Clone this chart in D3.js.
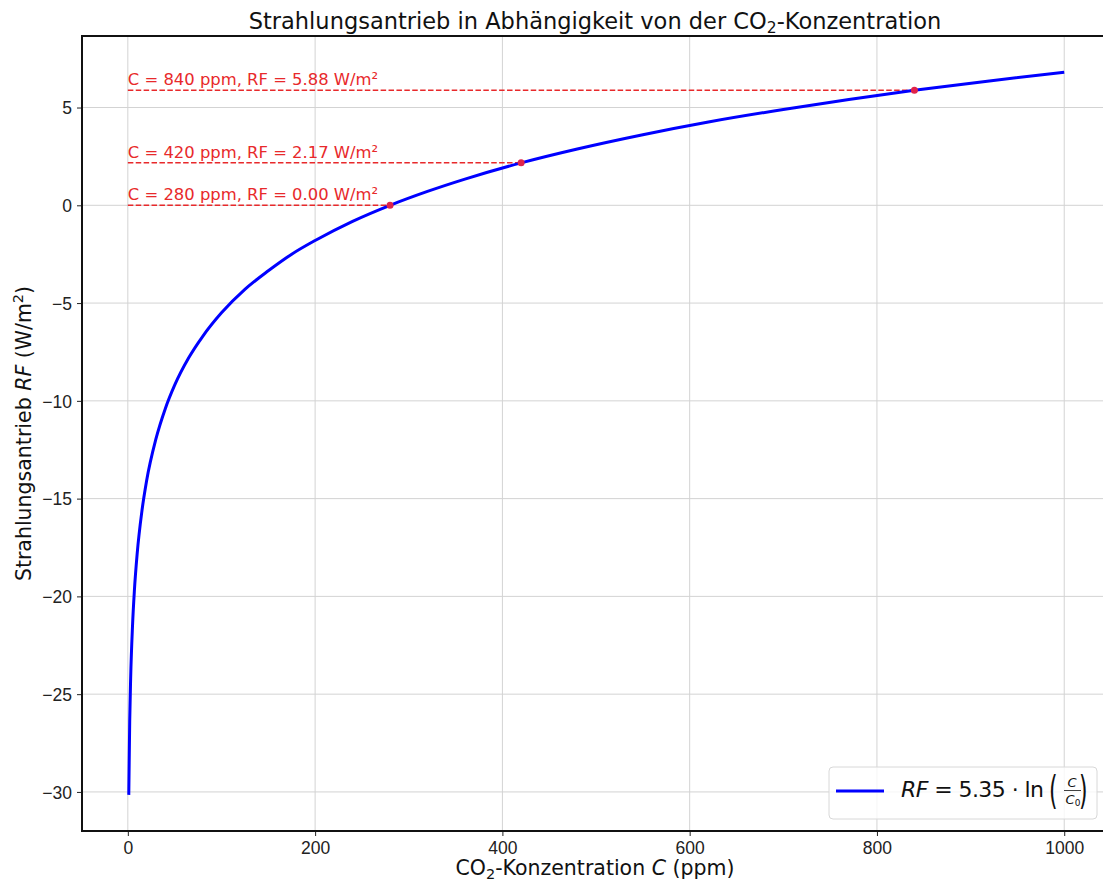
<!DOCTYPE html>
<html lang="de">
<head>
<meta charset="UTF-8">
<title>Strahlungsantrieb</title>
<style>
  body { margin: 0; background: #fff; }
  svg { display: block; font-family: "DejaVu Sans", sans-serif; }
  .grid line { stroke: #d3d3d3; stroke-width: 1; }
  .tick text { font-size: 17.5px; fill: #222; }
</style>
</head>
<body>
<div id="chart"></div>
<script src="https://d3js.org/d3.v7.min.js"></script>
<script>
// CO2 concentration (ppm) and forcing (W/m²)
const concentration = [1, 2, 3, 5, 7, 10, 15, 20, 30, 40, 50, 65, 80, 100, 125, 150, 175, 200, 240, 280, 320, 360, 420, 480, 550, 620, 700, 770, 840, 920, 1000];
const forcing = [-30.15, -26.4, -24.2, -21.5, -19.7, -17.8, -15.65, -14.1, -11.95, -10.4, -9.2, -7.8, -6.7, -5.5, -4.3, -3.35, -2.5, -1.8, -0.82, 0, 0.71, 1.34, 2.17, 2.88, 3.61, 4.26, 4.9, 5.41, 5.88, 6.36, 6.81];

// marked points
const markC = [280, 420, 840];
const markRF = [0.00, 2.17, 5.88];

const xTicks = [0, 200, 400, 600, 800, 1000];
const yTicks = [-30, -25, -20, -15, -10, -5, 0, 5];

const W = 1103, H = 882;
const margin = {top: 36, left: 82, bottom: 51, right: -8};

const svg = d3.select("#chart").append("svg")
    .attr("width", W)
    .attr("height", H);

// 5% padding like matplotlib
const xExt = d3.extent(concentration), yExt = d3.extent(forcing);
const xPad = (xExt[1] - xExt[0]) * 0.05, yPad = (yExt[1] - yExt[0]) * 0.05;

const x = d3.scaleLinear()
    .domain([xExt[0] - xPad, xExt[1] + xPad])
    .range([margin.left, W - margin.right]);
const y = d3.scaleLinear()
    .domain([yExt[0] - yPad, yExt[1] + yPad])
    .range([H - margin.bottom, margin.top]);

const x0 = x.range()[0], x1 = x.range()[1];
const y0 = y.range()[0], y1 = y.range()[1];

// grid
const grid = svg.append("g").attr("class", "grid");
grid.selectAll(".gx").data(xTicks).enter().append("line")
    .attr("x1", d => x(d)).attr("x2", d => x(d))
    .attr("y1", y1).attr("y2", y0);
grid.selectAll(".gy").data(yTicks).enter().append("line")
    .attr("x1", x0).attr("x2", x1)
    .attr("y1", d => y(d)).attr("y2", d => y(d));

// axes
const fmt = d => d < 0 ? "\u2212" + Math.abs(d) : String(d);
const xAxis = svg.append("g")
    .attr("transform", `translate(0,${y0})`)
    .call(d3.axisBottom(x).tickValues(xTicks).tickFormat(fmt).tickSize(5).tickPadding(6));
const yAxis = svg.append("g")
    .attr("transform", `translate(${x0},0)`)
    .call(d3.axisLeft(y).tickValues(yTicks).tickFormat(fmt).tickSize(5).tickPadding(5));
xAxis.select(".domain").remove();
yAxis.select(".domain").remove();
xAxis.selectAll(".tick line").attr("stroke", "#222");
yAxis.selectAll(".tick line").attr("stroke", "#222");
xAxis.selectAll(".tick text").attr("dy", "0.71em");
yAxis.selectAll(".tick text").attr("dy", "0.36em");

// annotations: dashed guides, dots, labels
const marks = markC.map((c, i) => ({c: c, rf: markRF[i]}));
svg.selectAll(".guide").data(marks).enter().append("line")
    .attr("x1", x(0)).attr("x2", d => x(d.c))
    .attr("y1", d => y(d.rf)).attr("y2", d => y(d.rf))
    .attr("stroke", "#e8292b")
    .attr("stroke-width", 1.5)
    .attr("stroke-dasharray", "5.5,2.4");

// curve
const pts = concentration.map((c, i) => [c, forcing[i]]);
const line = d3.line()
    .x(d => x(d[0]))
    .y(d => y(d[1]))
    .curve(d3.curveMonotoneX);
svg.append("path")
    .datum(pts)
    .attr("d", line)
    .attr("fill", "none")
    .attr("stroke", "#0000ff")
    .attr("stroke-width", 3);

svg.selectAll(".dot").data(marks).enter().append("circle")
    .attr("cx", d => x(d.c)).attr("cy", d => y(d.rf))
    .attr("r", 3.5)
    .attr("fill", "#e0234a");

svg.selectAll(".lab").data(marks).enter().append("text")
    .attr("x", x(0))
    .attr("y", d => y(d.rf) - 5)
    .attr("font-size", 16.4)
    .attr("fill", "#e8292b")
    .text(d => `C = ${d.c} ppm, RF = ${d.rf.toFixed(2)} W/m²`);

// spines
const spine = svg.append("g").attr("stroke", "#111").attr("stroke-width", 2);
spine.append("line").attr("x1", x0).attr("x2", x0).attr("y1", y1 - 1).attr("y2", y0 + 1);
spine.append("line").attr("x1", x0 - 1).attr("x2", x1).attr("y1", y0).attr("y2", y0);
spine.append("line").attr("x1", x0 - 1).attr("x2", x1).attr("y1", y1).attr("y2", y1);

// title
const title = svg.append("text")
    .attr("x", 595).attr("y", 29)
    .attr("text-anchor", "middle")
    .attr("font-size", 22.5)
    .attr("fill", "#111");
title.append("tspan").text("Strahlungsantrieb in Abhängigkeit von der CO");
title.append("tspan").attr("font-size", 15.5).attr("dy", 4).text("2");
title.append("tspan").attr("dy", -4).text("-Konzentration");

// x label
const xl = svg.append("text")
    .attr("x", 595).attr("y", 875)
    .attr("text-anchor", "middle")
    .attr("font-size", 20.5)
    .attr("fill", "#111");
xl.append("tspan").text("CO");
xl.append("tspan").attr("font-size", 14.5).attr("dy", 4).text("2");
xl.append("tspan").attr("dy", -4).text("-Konzentration ");
xl.append("tspan").attr("font-style", "italic").text("C");
xl.append("tspan").text(" (ppm)");

// y label
const yl = svg.append("text")
    .attr("transform", `translate(31,${(y0 + y1) / 2}) rotate(-90)`)
    .attr("text-anchor", "middle")
    .attr("font-size", 20.5)
    .attr("fill", "#111");
yl.append("tspan").text("Strahlungsantrieb ");
yl.append("tspan").attr("font-style", "italic").text("RF");
yl.append("tspan").text(" (W/m");
yl.append("tspan").attr("font-size", 14.5).attr("dy", -8).text("2");
yl.append("tspan").attr("dy", 8).text(")");

// legend
const lg = svg.append("g").attr("transform", "translate(829,767)");
lg.append("rect")
    .attr("width", 268).attr("height", 52)
    .attr("rx", 4)
    .attr("fill", "#fff").attr("fill-opacity", 0.8)
    .attr("stroke", "#d8d8d8");
lg.append("line")
    .attr("x1", 7).attr("x2", 55).attr("y1", 24).attr("y2", 24)
    .attr("stroke", "#0000ff").attr("stroke-width", 3);
const lt = lg.append("text")
    .attr("x", 72).attr("y", 30)
    .attr("font-size", 22)
    .attr("fill", "#111")
    .attr("textLength", 143)
    .attr("lengthAdjust", "spacing");
lt.append("tspan").attr("font-style", "italic").text("RF");
lt.append("tspan").text(" = 5.35 · ln");
lg.append("text")
    .attr("transform", "translate(220,37) scale(1,1.75)")
    .attr("font-size", 22).attr("fill", "#111").text("(");
lg.append("text").attr("x", 243).attr("y", 20).attr("font-size", 13).attr("font-style", "italic")
    .attr("text-anchor", "middle").attr("fill", "#111").text("C");
lg.append("line").attr("x1", 235).attr("x2", 252).attr("y1", 23.5).attr("y2", 23.5)
    .attr("stroke", "#111").attr("stroke-width", 0.8);
const cz = lg.append("text").attr("x", 244).attr("y", 37).attr("font-size", 13)
    .attr("text-anchor", "middle").attr("fill", "#111");
cz.append("tspan").attr("font-style", "italic").text("C");
cz.append("tspan").attr("font-size", 9).attr("dy", 2).text("0");
lg.append("text")
    .attr("transform", "translate(250,37) scale(1,1.75)")
    .attr("font-size", 22).attr("fill", "#111").text(")");
</script>
</body>
</html>
